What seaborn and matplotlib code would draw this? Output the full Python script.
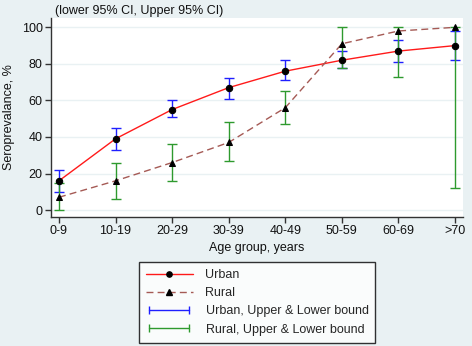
import numpy as np
import pandas as pd
import matplotlib
matplotlib.use("Agg")
import matplotlib.pyplot as plt
import seaborn as sns
from matplotlib.lines import Line2D
from matplotlib.legend_handler import HandlerLine2D

age_groups = ["0-9", "10-19", "20-29", "30-39", "40-49", "50-59", "60-69", ">70"]
urban = [16, 39, 55, 67, 76, 82, 87, 90]
urban_lo = [10, 33, 51, 61, 71, 78, 81, 82]
urban_hi = [22, 45, 60, 72, 82, 87, 93, 98]
rural = [7, 16, 26, 37, 56, 91, 98, 100]
rural_lo = [0, 6, 16, 27, 47, 78, 73, 12]
rural_hi = [15, 26, 36, 48, 65, 100, 100, 100]

BG = "#e9f1f3"
RED = "#ff1a1a"
RURAL = "#a55a55"
BLUE = "#1f1fff"
GREEN = "#2e9a2e"

sns.set_theme(style="white")
plt.rcParams["font.family"] = ["Liberation Sans", "DejaVu Sans"]
plt.rcParams["font.size"] = 9

pos = np.arange(len(age_groups))
df = pd.DataFrame({
    "pos": np.concatenate([pos, pos]),
    "value": urban + rural,
    "area": ["Urban"] * len(pos) + ["Rural"] * len(pos),
})

fig = plt.figure(figsize=(4.72, 3.46), dpi=100, facecolor=BG)
ax = fig.add_axes([51 / 472, 1 - 217 / 346, (463 - 51) / 472, (217 - 18) / 346])
ax.set_facecolor("white")

# CI bars first, lines and markers on top
ax.errorbar(pos, urban, yerr=[np.subtract(urban, urban_lo), np.subtract(urban_hi, urban)],
            fmt="none", ecolor=BLUE, elinewidth=1, capsize=3.8, capthick=1, zorder=2)
ax.errorbar(pos, rural, yerr=[np.subtract(rural, rural_lo), np.subtract(rural_hi, rural)],
            fmt="none", ecolor=GREEN, elinewidth=1, capsize=3.8, capthick=1, zorder=2)

sns.lineplot(data=df[df.area == "Urban"], x="pos", y="value", ax=ax, color=RED, lw=1,
             marker="o", markersize=4.6, markerfacecolor="black", markeredgecolor="black",
             legend=False, zorder=3)
sns.lineplot(data=df[df.area == "Rural"], x="pos", y="value", ax=ax, color=RURAL, lw=1,
             marker="^", markersize=4.2, markerfacecolor="black", markeredgecolor="black",
             legend=False, zorder=3)
ax.lines[-1].set_linestyle((0, (5, 3)))

ax.set_xlim(-0.141, 7.141)
ax.set_ylim(-3.8, 105.1)
ax.set_xticks(pos)
ax.set_xticklabels(age_groups)
ax.set_yticks([0, 20, 40, 60, 80, 100])
ax.yaxis.grid(True, color=BG, lw=1)
ax.set_axisbelow(True)
for s in ["top", "right"]:
    ax.spines[s].set_visible(False)
for s in ["left", "bottom"]:
    ax.spines[s].set_color("#333333")
    ax.spines[s].set_linewidth(1)
ax.tick_params(axis="both", direction="out", length=4, width=1, color="#333333",
               labelsize=9, pad=2, left=True, bottom=True, labelcolor="#111111")
ax.set_xlabel("Age group, years", fontsize=9, labelpad=3, color="#111111")
ax.set_ylabel("Seroprevalance, %", fontsize=9, labelpad=5, color="#111111")

fig.text(55 / 472, 1 - 11 / 346, "(lower 95% CI, Upper 95% CI)", fontsize=9,
         ha="left", va="center", color="#111111")

h_urban = Line2D([], [], color=RED, lw=1, marker="o", markersize=3.8,
                 markerfacecolor="black", markeredgecolor="black")
h_rural = Line2D([], [], color=RURAL, lw=1, ls=(0, (5, 3)), marker="^", markersize=3.8,
                 markerfacecolor="black", markeredgecolor="black")
h_ub = Line2D([], [], color=BLUE, lw=1, marker="|", markersize=6, markeredgewidth=1)
h_rb = Line2D([], [], color=GREEN, lw=1, marker="|", markersize=6, markeredgewidth=1)
leg = fig.legend([h_urban, h_rural, h_ub, h_rb],
                 ["Urban", "Rural", "Urban, Upper & Lower bound", "Rural, Upper & Lower bound"],
                 loc="upper center", bbox_to_anchor=(257 / 472, 1 - 262 / 346),
                 borderaxespad=0, fontsize=9, frameon=True, fancybox=False,
                 edgecolor="black", handlelength=3.8, labelspacing=0.5, borderpad=0.55,
                 handletextpad=1.0,
                 handler_map={h_urban: HandlerLine2D(numpoints=1),
                              h_rural: HandlerLine2D(numpoints=1),
                              h_ub: HandlerLine2D(numpoints=2),
                              h_rb: HandlerLine2D(numpoints=2)})
leg.get_frame().set_linewidth(1)

fig.savefig("out.png", dpi=100, facecolor=BG)
